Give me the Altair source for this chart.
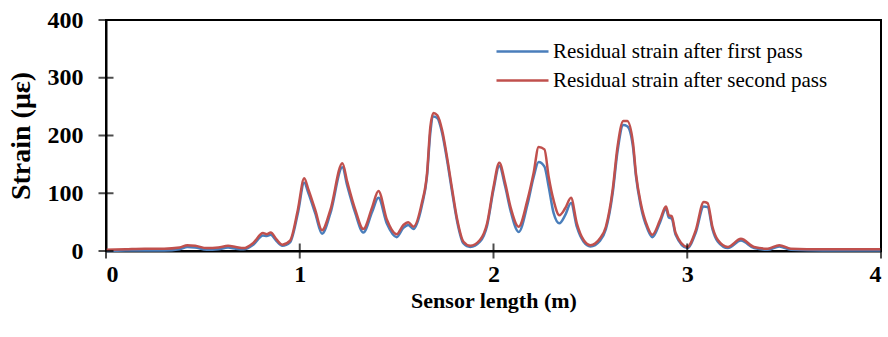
import altair as alt
import pandas as pd

position_m = [0.00, 0.10, 0.20, 0.30, 0.38, 0.42, 0.46, 0.52, 0.58, 0.63, 0.67, 0.71, 0.76,
              0.81, 0.83, 0.85, 0.88, 0.91, 0.95, 0.99, 1.023, 1.045, 1.08, 1.115, 1.158,
              1.22, 1.245, 1.287, 1.328, 1.374, 1.406, 1.45, 1.50, 1.535, 1.56, 1.587, 1.63,
              1.657, 1.674, 1.69, 1.71, 1.735, 1.76, 1.787, 1.813, 1.845, 1.88, 1.93, 1.967,
              2.0, 2.03, 2.06, 2.088, 2.13, 2.175, 2.207, 2.233, 2.263, 2.285, 2.31, 2.34,
              2.37, 2.40, 2.43, 2.465, 2.50, 2.55, 2.58, 2.615, 2.64, 2.67, 2.69, 2.72, 2.735,
              2.76, 2.795, 2.82, 2.86, 2.89, 2.905, 2.92, 2.94, 3.0, 3.044, 3.085, 3.105, 3.13,
              3.158, 3.21, 3.277, 3.345, 3.415, 3.475, 3.535, 3.7, 4.0]

second_pass = [2, 3, 4, 4, 6, 10, 9, 5, 6, 9, 7, 5, 14,
               31, 29, 32, 20, 11, 18, 71, 126, 106, 71, 36, 71,
               152, 120, 71, 38, 76, 104, 54, 29, 45, 50, 42, 83,
               135, 215, 239, 235, 209, 163, 106, 54, 16, 9, 19, 48,
               111, 153, 118, 76, 42, 88, 135, 180, 176, 128, 88, 62,
               74, 92, 48, 19, 10, 22, 42, 106, 180, 225, 225, 187, 135,
               83, 42, 28, 54, 77, 62, 60, 31, 7, 36, 85, 83, 42,
               19, 7, 21, 7, 4, 10, 4, 3, 3]

first_pass = [0, 1, 1, 1, 3, 7, 6, 2, 3, 6, 4, 3, 11,
              27, 26, 28, 17, 9, 15, 65, 118, 100, 65, 30, 65,
              145, 113, 65, 32, 68, 92, 47, 24, 40, 45, 38, 78,
              130, 205, 233, 230, 204, 158, 101, 50, 13, 7, 16, 44,
              106, 147, 112, 70, 33, 80, 128, 154, 146, 111, 66, 48,
              62, 83, 42, 16, 8, 18, 38, 100, 172, 218, 216, 180, 130,
              78, 38, 24, 50, 73, 58, 56, 28, 5, 32, 77, 76, 38,
              16, 5, 18, 5, 2, 8, 2, 1, 1]

series_names = ["Residual strain after first pass", "Residual strain after second pass"]
series_colors = ["#4a7ebb", "#c0504d"]
x_ticks = [0, 1, 2, 3, 4]
y_ticks = [0, 100, 200, 300, 400]
x_title = "Sensor length (m)"
y_title = "Strain (με)"

rows = []
for name, vals in zip(series_names, [first_pass, second_pass]):
    for i, (x, v) in enumerate(zip(position_m, vals)):
        rows.append({"x": x, "strain": v, "series": name, "idx": i})
df = pd.DataFrame(rows)
xt_df = pd.DataFrame({"xt": x_ticks})
yt_df = pd.DataFrame({"yt": y_ticks})

FONT = "Liberation Serif"
common = dict(grid=False, domainColor="black", domainWidth=2, ticks=False,
              labelFont=FONT, labelFontSize=24, labelFontWeight="bold",
              labelColor="black", titleFont=FONT, titleFontWeight="bold", titleColor="black",
              format="d")

xscale = alt.Scale(domain=[0, 4], nice=False)
yscale = alt.Scale(domain=[0, 400], nice=False)

lines = alt.Chart(df).mark_line(strokeWidth=2.5, interpolate="monotone").encode(
    x=alt.X("x:Q", scale=xscale, title=x_title,
            axis=alt.Axis(values=x_ticks, titleFontSize=22, titlePadding=4,
                          labelPadding=11, orient="bottom", **common)),
    y=alt.Y("strain:Q", scale=yscale, title=y_title,
            axis=alt.Axis(values=y_ticks, titleFontSize=28, titlePadding=12,
                          labelPadding=23, orient="left", **common)),
    color=alt.Color("series:N",
                    scale=alt.Scale(domain=series_names, range=series_colors),
                    legend=alt.Legend(title=None, orient="none", legendX=402, legendY=17,
                                      symbolType="M-2,0H2", symbolSize=676,
                                      symbolStrokeWidth=2.5, symbolFillColor="transparent",
                                      labelFont=FONT, labelFontSize=21, labelColor="black",
                                      labelOffset=16, rowPadding=4, labelLimit=400)),
    order="idx:Q",
)

# tick marks crossing the axes, placed through the scales at the axis values
x_tick_marks = alt.Chart(xt_df).mark_tick(orient="vertical", size=15, thickness=2,
                                          color="black").encode(
    x=alt.X("xt:Q", scale=xscale, title=x_title),
    y=alt.datum(0),
)
y_tick_marks = alt.Chart(yt_df).mark_tick(orient="horizontal", size=15, thickness=2,
                                          color="black").encode(
    y=alt.Y("yt:Q", scale=yscale, title=y_title),
    x=alt.datum(0),
)

chart = alt.layer(lines, x_tick_marks, y_tick_marks).properties(
    width=775, height=231,
    autosize=alt.AutoSizeParams(type="none"),
    padding={"left": 106, "top": 20, "right": 7, "bottom": 86},
).configure_view(
    stroke="black", strokeWidth=2
)

chart.save("out.html", embed_options={"renderer": "svg", "actions": False})
